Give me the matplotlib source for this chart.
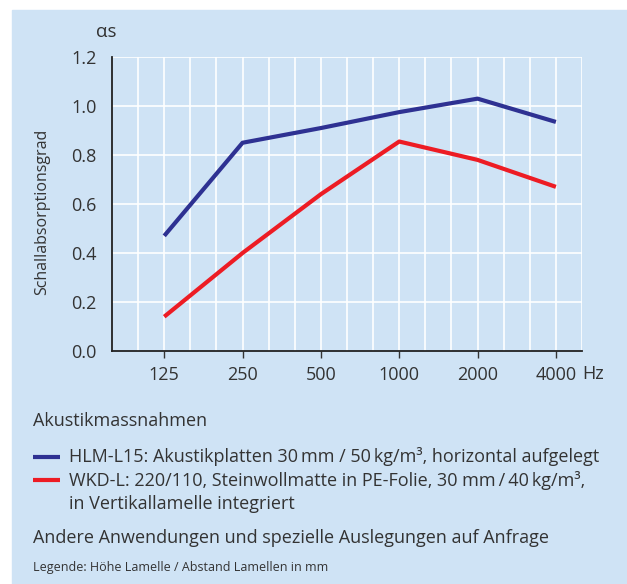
import matplotlib
matplotlib.use("Agg")
import matplotlib.pyplot as plt
import numpy as np

plt.rcParams['font.family'] = ['Open Sans', 'DejaVu Sans']

# frequency bands and absorption values
freqs = ['125', '250', '500', '1000', '2000', '4000']
hlm_l15 = [0.47, 0.85, 0.91, 0.975, 1.03, 0.935]
wkd_l = [0.14, 0.40, 0.64, 0.855, 0.78, 0.67]
y_ticks = [0.0, 0.2, 0.4, 0.6, 0.8, 1.0, 1.2]

bg = '#cfe3f5'
txt = '#333333'
blue = '#2e3192'
red = '#ed1c24'

fig = plt.figure(figsize=(6.27, 5.84), dpi=100)
W, H = 627, 584

# light blue panel behind everything
fig.patches.append(plt.Rectangle((12 / W, 0), 1 - 12 / W, 1 - 10 / H,
                                 transform=fig.transFigure, color=bg, zorder=-10))

ax = fig.add_axes([112 / W, 1 - 351 / H, (582 - 112) / W, (351 - 57) / H])
ax.set_facecolor(bg)

x = np.arange(len(freqs))
ax.set_xlim(-2 / 3, len(freqs) - 1 + 1 / 3)
ax.set_ylim(0, 1.2)

# third-octave grid
for gx in np.arange(-1 / 3, len(freqs) - 1 + 1 / 3 + 0.01, 1 / 3):
    ax.axvline(gx, color='white', lw=1.2, zorder=1)
for gy in y_ticks[1:]:
    ax.axhline(gy, color='white', lw=1.2, zorder=1)

ax.plot(x, hlm_l15, color=blue, lw=3, solid_capstyle='butt', zorder=3)
ax.plot(x, wkd_l, color=red, lw=3, solid_capstyle='butt', zorder=3)

ax.set_xticks(x)
ax.set_xticklabels(freqs)
ax.set_yticks(y_ticks)
ax.set_yticklabels([f'{v:.1f}' for v in y_ticks])
ax.tick_params(axis='x', direction='out', length=5, width=1, color=txt,
               labelsize=13, labelcolor=txt, pad=6)
ax.tick_params(axis='y', length=0, labelsize=13, labelcolor=txt, pad=11)

for s in ['top', 'right']:
    ax.spines[s].set_visible(False)
ax.spines['left'].set_color('#222222')
ax.spines['bottom'].set_color('#222222')
ax.spines['left'].set_linewidth(1.3)
ax.spines['bottom'].set_linewidth(1.3)

fig.text(582 / W, 1 - 374 / H, 'Hz', fontsize=13, color=txt, va='center')
fig.text(96 / W, 1 - 32 / H, 'αs', fontsize=13.5, color=txt, va='center')
fig.text(42 / W, 1 - 212 / H, 'Schallabsorptionsgrad', fontsize=11.5, color=txt,
         rotation=90, ha='center', va='center')

# legend block below the plot
fs = 13
fig.text(33 / W, 1 - 421 / H, 'Akustikmassnahmen', fontsize=fs, color=txt, va='center')
for yy, col in [(457, blue), (480, red)]:
    fig.add_artist(plt.Line2D([33 / W, 60 / W], [1 - yy / H, 1 - yy / H],
                              color=col, lw=3, solid_capstyle='butt'))
fig.text(69 / W, 1 - 456 / H,
         'HLM-L15: Akustikplatten 30\u2009mm / 50\u2009kg/m³, horizontal aufgelegt',
         fontsize=fs, color=txt, va='center')
fig.text(69 / W, 1 - 480 / H,
         'WKD-L: 220/110, Steinwollmatte in PE-Folie, 30 mm\u2009/\u200940\u2009kg/m³,',
         fontsize=fs, color=txt, va='center')
fig.text(69 / W, 1 - 504 / H, 'in Vertikallamelle integriert',
         fontsize=fs, color=txt, va='center')
fig.text(33 / W, 1 - 538 / H, 'Andere Anwendungen und spezielle Auslegungen auf Anfrage',
         fontsize=fs, color=txt, va='center')
fig.text(33 / W, 1 - 568 / H, 'Legende: Höhe Lamelle / Abstand Lamellen in mm',
         fontsize=9, color=txt, va='center')

fig.savefig('out.png', dpi=100, facecolor='white')
